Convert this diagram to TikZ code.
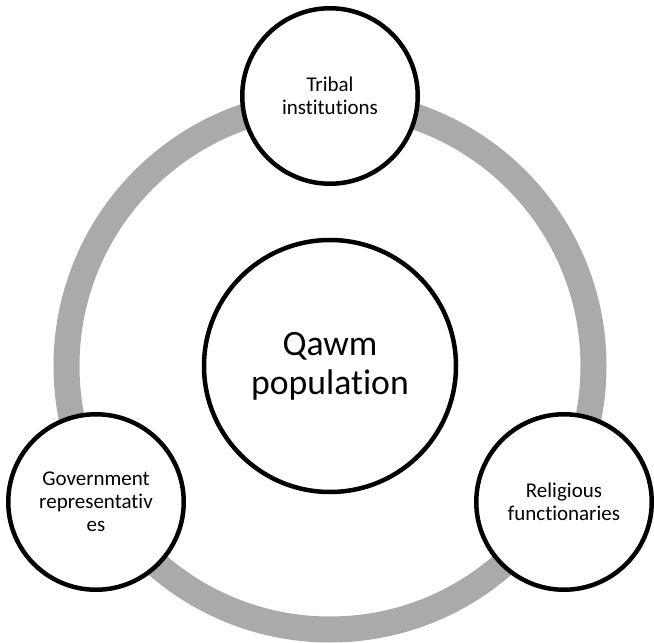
\documentclass[tikz,border=0pt]{standalone}
\usepackage{fontspec}
\setmainfont[Ligatures={NoCommon}]{Carlito}
\definecolor{ringgray}{RGB}{170,170,170}
\tikzset{
  smallcirc/.style={circle, draw=black, line width=4.5bp, fill=white, minimum size=175.5bp, inner sep=0pt, align=center, font=\fontsize{21bp}{23bp}\selectfont},
  bigcirc/.style={circle, draw=black, line width=4.5bp, fill=white, minimum size=252bp, inner sep=0pt, align=center, font=\fontsize{35.7bp}{39bp}\selectfont},
  ring/.style={draw=ringgray, line width=26bp}
}
\begin{document}
\begin{tikzpicture}[x=1bp, y=1bp]
  \useasboundingbox (-330,-277) rectangle (324,366);
  \coordinate (o) at (0,0);
  \draw[ring] (o) circle[radius=263.5];
  \node[bigcirc] (qawm) at (0,0) {Qawm\\population};
  \node[smallcirc] (tribal) at (0,270) {Tribal\\institutions};
  \node[smallcirc] (gov) at (-234,-136) {Government\\representativ\\es};
  \node[smallcirc] (rel) at (234,-136) {Religious\\functionaries};
\end{tikzpicture}
\end{document}
